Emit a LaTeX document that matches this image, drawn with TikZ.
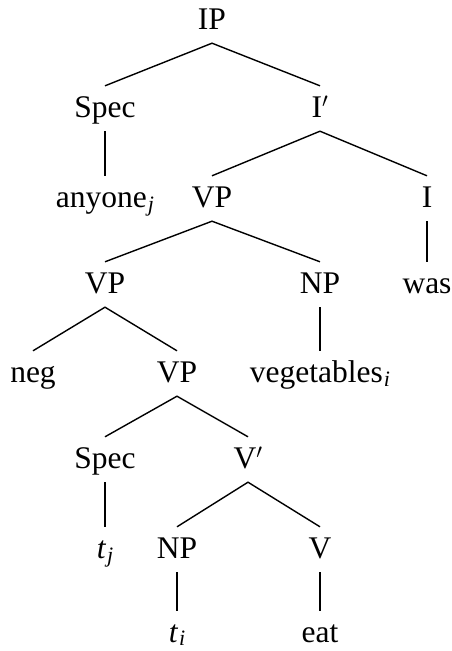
\documentclass[tikz,border=0pt]{standalone}
\usepackage{fontspec}
\setmainfont{Liberation Serif}
\newcommand{\subx}[1]{\kern1pt\raisebox{-4pt}{\fontsize{22}{22}\selectfont\itshape #1}}
\newcommand{\subl}[1]{\kern1pt\raisebox{-3pt}{\fontsize{22}{22}\selectfont\itshape #1}}
\begin{document}
\begin{tikzpicture}[x=1pt,y=-1pt,
  lbl/.style={anchor=base,inner sep=0pt,text height=31pt,text depth=14pt,font=\fontsize{31.5}{38}\selectfont},
  leaf/.style={lbl,text depth=1pt},
  br/.style={line width=1.4pt},
  vl/.style={line width=2.2pt}]
\useasboundingbox (0,0) rectangle (451,651);
\node[lbl] (IP) at (212,29) {IP};
\node[lbl] (Spec1) at (105,117) {Spec};
\node[lbl] (Ibar) at (320,117) {I$'$};
\node[lbl] (any) at (105,207) {anyone\subx{j}};
\node[lbl] (VP2) at (212,207) {VP};
\node[lbl] (I) at (427,207) {I};
\node[lbl] (VP3) at (105,293) {VP};
\node[lbl] (NP1) at (320,293) {NP};
\node[lbl] (was) at (427,293) {was};
\node[lbl] (neg) at (33,382) {neg};
\node[lbl] (VP4) at (177,382) {VP};
\node[lbl] (veg) at (320,382) {vegetables\subx{i}};
\node[lbl] (Spec2) at (105,468) {Spec};
\node[lbl] (Vbar) at (248,468) {V$'$};
\node[lbl] (tj) at (105,558) {\textit{t}\subx{j}};
\node[lbl] (NP2) at (177,558) {NP};
\node[lbl] (V) at (320,558) {V};
\node[leaf] (ti) at (177,642) {\textit{t}\subl{i}};
\node[leaf] (eat) at (320,642) {eat};
\draw[br] (Spec1.north) -- (IP.south) -- (Ibar.north);
\draw[vl] (Spec1.south) -- (any.north);
\draw[br] (VP2.north) -- (Ibar.south) -- (I.north);
\draw[vl] (I.south) -- (was.north);
\draw[br] (VP3.north) -- (VP2.south) -- (NP1.north);
\draw[vl] (NP1.south) -- (veg.north);
\draw[br] (neg.north) -- (VP3.south) -- (VP4.north);
\draw[br] (Spec2.north) -- (VP4.south) -- (Vbar.north);
\draw[vl] (Spec2.south) -- (tj.north);
\draw[br] (NP2.north) -- (Vbar.south) -- (V.north);
\draw[vl] (NP2.south) -- (ti.north);
\draw[vl] (V.south) -- (eat.north);
\end{tikzpicture}
\end{document}
